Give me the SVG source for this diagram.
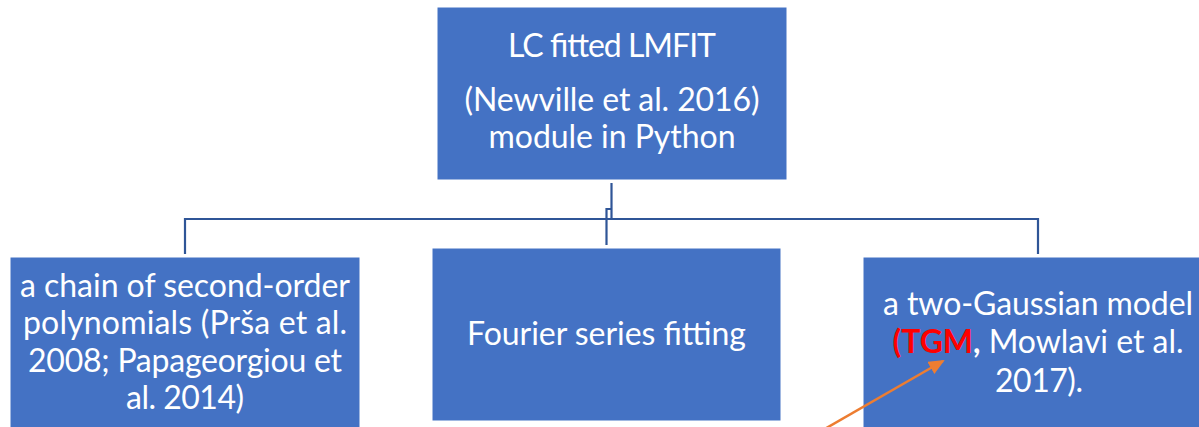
<svg xmlns="http://www.w3.org/2000/svg" width="1199" height="427" viewBox="0 0 1199 427">
<style>
.box{fill:#4472C4;stroke:#ffffff;stroke-width:1}
.t{font-family:Lato,"Open Sans",sans-serif;font-size:32px;fill:#ffffff;text-anchor:middle}
.conn{fill:none;stroke:#2F5597;stroke-width:2.2}
.red{fill:#FF0000;font-weight:bold}
.b{font-weight:bold}
</style>
<defs>
<marker id="ah" markerUnits="userSpaceOnUse" markerWidth="16" markerHeight="14" refX="14" refY="7" orient="auto">
<path d="M0,0 L16,7 L0,14 Z" fill="#ED7D31"/>
</marker>
</defs>
<rect width="1199" height="427" fill="#ffffff"/>
<g id="node-top">
<rect class="box" x="437" y="7" width="350" height="173"/>
<text class="t" x="612" y="57" textLength="208">LC fitted LMFIT</text>
<text class="t" x="612" y="111" textLength="295">(Newville et al. 2016)</text>
<text class="t" x="612" y="148" textLength="247">module in Python</text>
</g>
<g id="node-left">
<rect class="box" x="10" y="257" width="350" height="190"/>
<text class="t" x="185" y="297" textLength="330">a chain of second-order</text>
<text class="t" x="185" y="334" textLength="324">polynomials (Prša et al.</text>
<text class="t" x="185" y="372" textLength="314">2008; Papageorgiou et</text>
<text class="t" x="185" y="409" textLength="118">al. 2014)</text>
</g>
<g id="node-middle">
<rect class="box" x="432" y="248" width="349" height="173"/>
<text class="t" x="606.5" y="345" textLength="279">Fourier series fitting</text>
</g>
<g id="node-right">
<rect class="box" x="863" y="257" width="360" height="190"/>
<text class="t" x="1038" y="315" textLength="310">a two-Gaussian model</text>
<text class="t" x="1038" y="353" textLength="291"><tspan class="red">(TGM</tspan><tspan class="b">,</tspan> Mowlavi et al.</text>
<text class="t" x="1039" y="392" textLength="88">2017).</text>
</g>
<g id="connectors">
<path class="conn" d="M611.5,183 V219"/>
<path class="conn" d="M185,254 V219 H1038 V254"/>
<path class="conn" d="M606.5,245 V209 H611.5"/>
<line x1="816" y1="434" x2="943" y2="361" stroke="#ED7D31" stroke-width="2.5" marker-end="url(#ah)"/>
</g>
</svg>
